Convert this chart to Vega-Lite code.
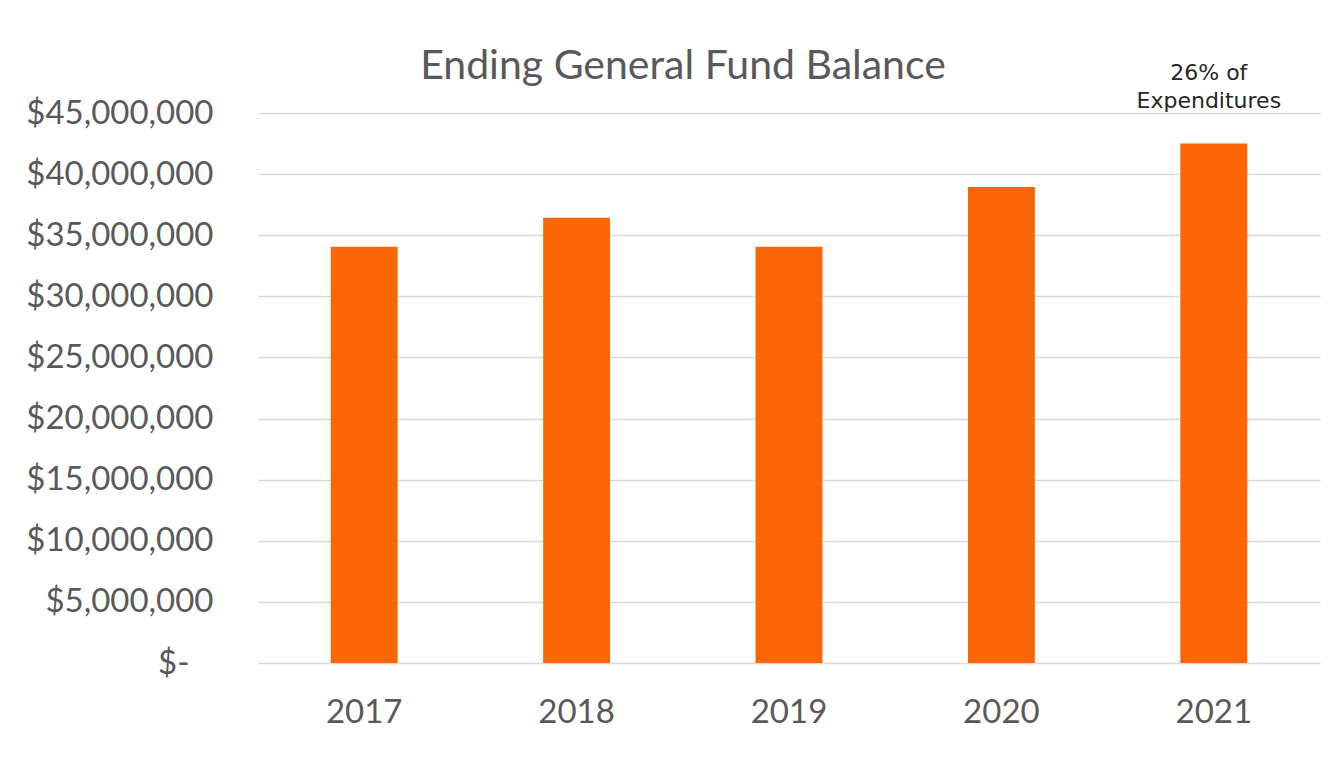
{
  "$schema": "https://vega.github.io/schema/vega-lite/v6.json",
  "width": 1062,
  "height": 550,
  "autosize": {"type": "none"},
  "padding": {"left": 258, "top": 113, "right": 18, "bottom": 102},
  "background": "white",
  "title": {
    "text": "Ending General Fund Balance",
    "font": "Lato",
    "fontSize": 41,
    "fontWeight": "normal",
    "color": "#595959",
    "anchor": "middle",
    "frame": "group",
    "dx": -106,
    "offset": 0,
    "dy": 26
  },
  "config": {
    "view": {"stroke": null},
    "axis": {
      "labelFont": "Lato",
      "labelFontSize": 33,
      "labelColor": "#595959",
      "labelLimit": 400,
      "ticks": false,
      "domain": false,
      "gridColor": "#d9d9d9",
      "gridWidth": 1.5,
      "title": null
    }
  },
  "data": {
    "values": [
      {"year": "2017", "balance": 34050000},
      {"year": "2018", "balance": 36420000},
      {"year": "2019", "balance": 34050000},
      {"year": "2020", "balance": 38950000},
      {"year": "2021", "balance": 42500000, "note": "26% of\nExpenditures"}
    ]
  },
  "encoding": {
    "x": {
      "field": "year",
      "type": "ordinal",
      "scale": {"paddingInner": 0.685, "paddingOuter": 0.3425},
      "axis": {"labelAngle": 0, "labelPadding": 33, "grid": false}
    }
  },
  "layer": [
    {
      "mark": {"type": "bar", "color": "#fa6603"},
      "encoding": {
        "y": {
          "field": "balance",
          "type": "quantitative",
          "scale": {"domain": [0, 45000000]},
          "axis": {
            "values": [0, 5000000, 10000000, 15000000, 20000000, 25000000, 30000000, 35000000, 40000000, 45000000],
            "labelExpr": "datum.value == 0 ? '$-\u2800' : '$' + format(datum.value, ',')",
            "labelPadding": 45
          }
        }
      }
    },
    {
      "transform": [{"filter": "datum.note != null"}],
      "mark": {
        "type": "text",
        "font": "DejaVu Sans",
        "fontSize": 22,
        "color": "#262626",
        "baseline": "bottom",
        "lineBreak": "\n",
        "lineHeight": 28,
        "dy": -28,
        "dx": -5,
        "clip": false
      },
      "encoding": {
        "y": {"datum": 45000000, "type": "quantitative"},
        "text": {"field": "note", "type": "nominal"}
      }
    }
  ]
}
